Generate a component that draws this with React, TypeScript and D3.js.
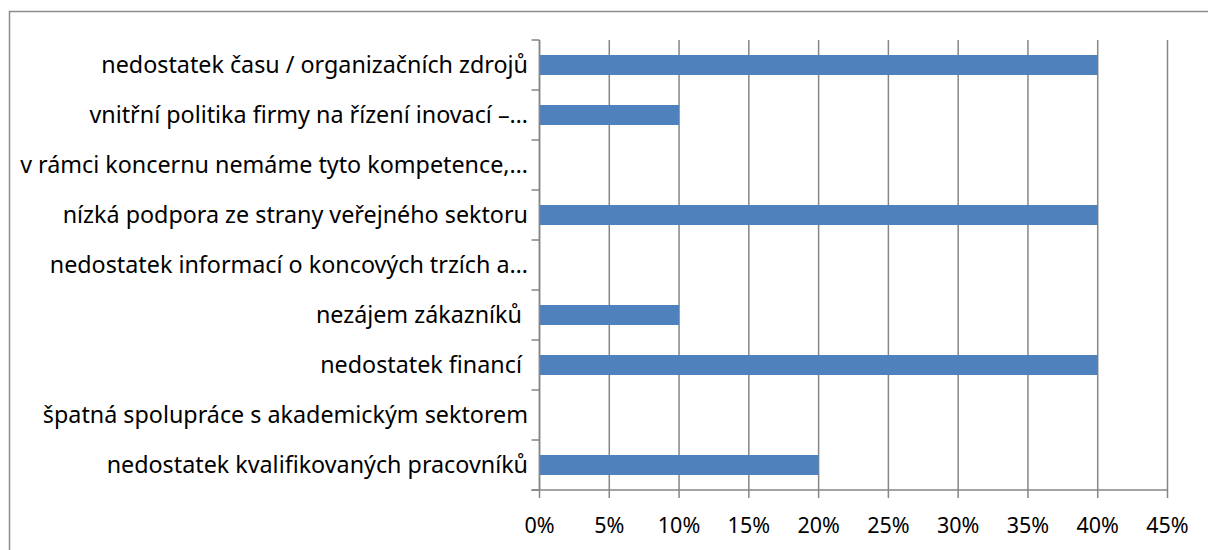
import React from "react";
import * as d3 from "d3";

const categories = [
  "nedostatek času / organizačních zdrojů",
  "vnitřní politika firmy na řízení inovací –…",
  "v rámci koncernu nemáme tyto kompetence,…",
  "nízká podpora ze strany veřejného sektoru",
  "nedostatek informací o koncových trzích a…",
  "nezájem zákazníků ",
  "nedostatek financí ",
  "špatná spolupráce s akademickým sektorem",
  "nedostatek kvalifikovaných pracovníků",
];
const values = [0.4, 0.1, 0, 0.4, 0, 0.1, 0.4, 0, 0.2];
const xTicks = [0, 0.05, 0.1, 0.15, 0.2, 0.25, 0.3, 0.35, 0.4, 0.45];

const W = 1208;
const H = 550;
const left = 539.5;
const right = 1167.5;
const top = 40;
const bottom = 490;
const FONT = "'Noto Sans', 'Open Sans', sans-serif";
const GRID = "#868686";

export default function App() {
  const x = d3.scaleLinear().domain([0, 0.45]).range([left, right]);
  const y = d3.scaleBand<string>().domain(categories).range([top, bottom]).paddingInner(0.6).paddingOuter(0.3);
  const step = y.step();
  const fmt = d3.format(".0%");
  return (
    <svg width={W} height={H} style={{ position: "absolute", left: 0, top: 0, background: "#fff" }}>
      <rect x={9.5} y={11.5} width={W + 20} height={H + 20} fill="#fff" stroke="#8c8c8c" strokeWidth={1.5} />
      {xTicks.map((t) => (
        <line key={"g" + t} x1={x(t)} x2={x(t)} y1={top} y2={bottom + 8} stroke={GRID} strokeWidth={1.5} />
      ))}
      {categories.map((c, i) => (
        <rect key={"b" + i} x={x(0)} y={y(c)!} width={x(values[i]) - x(0)} height={y.bandwidth()} fill="#4F81BD" />
      ))}
      <line x1={left} x2={left} y1={top} y2={bottom} stroke={GRID} strokeWidth={1.5} />
      <line x1={left - 8} x2={right} y1={bottom} y2={bottom} stroke={GRID} strokeWidth={1.5} />
      {d3.range(categories.length + 1).map((i) => (
        <line key={"t" + i} x1={left - 8} x2={left} y1={top + i * step} y2={top + i * step} stroke={GRID} strokeWidth={1.5} />
      ))}
      {categories.map((c, i) => (
        <text
          key={"l" + i}
          x={528}
          y={y(c)! + y.bandwidth() / 2}
          dy="0.35em"
          textAnchor="end"
          fontFamily={FONT}
          fontSize={23.3}
          fill="#000"
          style={{ whiteSpace: "pre" }}
        >
          {c}
        </text>
      ))}
      {xTicks.map((t) => (
        <text key={"x" + t} x={x(t)} y={525.5} dy="0.35em" textAnchor="middle" fontFamily={FONT} fontSize={21.5} fill="#000">
          {fmt(t)}
        </text>
      ))}
    </svg>
  );
}
